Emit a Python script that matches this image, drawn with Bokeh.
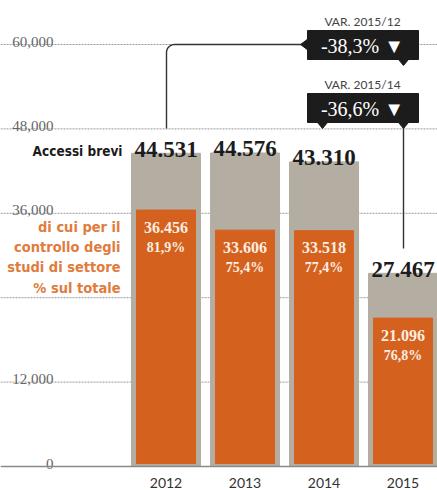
import numpy as np
from bokeh.plotting import figure
from bokeh.models import Range1d, Span, ColumnDataSource
from bokeh.core.properties import value
from bokeh.embed import file_html
from bokeh.resources import INLINE

# ---- data ----
years = ["2012", "2013", "2014", "2015"]
totals = [44531, 44576, 43310, 27467]
studi = [36456, 33606, 33518, 21096]
pct_labels = ["81,9%", "75,4%", "77,4%", "76,8%"]
tick_vals = [0, 12000, 24000, 36000, 48000, 60000]
tick_labels = ["0", "12,000", "", "36,000", "48,000", "60,000"]
var_titles = ["VAR. 2015/12", "VAR. 2015/14"]
var_values = ["-38,3% \u25BC", "-36,6% \u25BC"]
total_title = "Accessi brevi"
studi_title = ["di cui per il", "controllo degli", "studi di settore", "% sul totale"]

W, H = 437, 490
ZERO_PX = 466.0
PX_PER_UNIT_Y = 84.4 / 12000.0
X0_PX, STEP_PX = 165.5, 79.0

def X(px):
    return (px - X0_PX) / STEP_PX

def Y(py):
    return (ZERO_PX - py) / PX_PER_UNIT_Y

GRAY = "#b4ada2"
ORANGE = "#d5611f"
ORANGE_TXT = "#e07c3c"
DARK = "#1c1c1c"
COND = value("'DejaVu Sans Condensed', 'Liberation Sans Narrow', 'Roboto', sans-serif")

p = figure(width=W, height=H, x_range=Range1d(X(0), X(W)), y_range=Range1d(Y(H), Y(0)),
           min_border=0, toolbar_location=None, output_backend="svg",
           x_axis_location=None, y_axis_location=None)
p.outline_line_color = None
p.grid.visible = False
p.background_fill_color = "white"

# gridlines
for t in tick_vals[1:]:
    p.add_layout(Span(location=t, dimension="width", line_color="#9a9a9a",
                      line_dash="2 1", line_width=1, level="underlay"))
p.add_layout(Span(location=0, dimension="width", line_color="#8a8a8a", line_width=1.6))

xs = list(range(len(years)))
src = ColumnDataSource(dict(
    x=xs, total=totals, studi=studi, pct=pct_labels, year=years,
    tlabel=[f"{v:,}".replace(",", ".") for v in totals],
    slabel=[f"{v:,}".replace(",", ".") for v in studi],
))

bw = 69 / STEP_PX
ow = 59 / STEP_PX
p.vbar(x="x", top="total", bottom=0, width=bw, color=GRAY, source=src)
p.vbar(x="x", top="studi", bottom=3 * (1 / PX_PER_UNIT_Y), width=ow, color=ORANGE, source=src)

# tick labels
p.text(x=[X(53)] * len(tick_vals), y=tick_vals, text=tick_labels, text_align="right",
       text_baseline="alphabetic", y_offset=-3, text_font=value("Liberation Serif"),
       text_font_size="15px", text_color="#666666")

# total labels
p.text(x="x", y="total", text="tlabel", source=src, text_align="center",
       text_baseline="alphabetic", y_offset=-4, text_font=value("Liberation Serif"),
       text_font_style="bold", text_font_size="23px", text_color=DARK)
# inside labels
p.text(x="x", y="studi", text="slabel", source=src, text_align="center",
       text_baseline="middle", y_offset=17, text_font=value("Liberation Serif"),
       text_font_style="bold", text_font_size="16px", text_color="#fbeee0")
p.text(x="x", y="studi", text="pct", source=src, text_align="center",
       text_baseline="middle", y_offset=37, text_font=value("Liberation Serif"),
       text_font_style="bold", text_font_size="14px", text_color="#fbeee0")
# year labels
p.text(x="x", y=0, text="year", source=src, text_align="center", text_baseline="middle",
       y_offset=16, text_font=value("Lato"), text_font_size="14px", text_color="#333333")

# side titles
p.text(x=[X(122)], y=[Y(150)], text=[total_title], text_align="right", text_baseline="alphabetic",
       text_font=COND, text_font_style="bold", text_font_size="13.5px", text_color=DARK)
p.text(x=[X(120)] * 4, y=[Y(226 + 20.4 * i) for i in range(4)], text=studi_title,
       text_align="right", text_baseline="middle", text_font=COND,
       text_font_style="bold", text_font_size="14.5px", text_color=ORANGE_TXT)

# connector 1 with rounded corner
r = 8
ang = np.linspace(np.pi, np.pi / 2, 12)
cx, cy = 166 + r, 44 + r
arc_x = cx + r * np.cos(ang)
arc_y = cy - r * np.sin(ang)
lx = [166, 166] + list(arc_x) + [305]
ly = [128, cy] + list(arc_y) + [44]
p.line([X(v) for v in lx], [Y(v) for v in ly], line_color="#333333", line_width=1.4)
# connector 2
p.line([X(403), X(403)], [Y(124), Y(248)], line_color="#333333", line_width=1.4)

# boxes
box_tops = [30, 93]
for i, bt in enumerate(box_tops):
    bb = bt + 29
    p.quad(left=X(307), right=X(418), top=Y(bt), bottom=Y(bb), color=DARK)
    p.text(x=[X(362)], y=[Y(bt - 9)], text=[var_titles[i]], text_align="center",
           text_baseline="middle", text_font=value("Lato"), text_font_size="12px",
           text_color="#444444")
    p.text(x=[X(362)], y=[Y(bt + 15)], text=[var_values[i]], text_align="center",
           text_baseline="middle", text_font=value("Liberation Serif"), text_font_size="20px",
           text_color="white")
    # bottom-right pointer
    p.patch([X(398), X(408), X(403)], [Y(bb), Y(bb), Y(bb + 6)], color=DARK)
# left pointer box 1
p.patch([X(308), X(300), X(308)], [Y(38), Y(44), Y(50)], color=DARK)
# bottom-left pointer box 2
p.patch([X(317), X(327), X(322)], [Y(122), Y(122), Y(128)], color=DARK)

open("out.html", "w").write(file_html(p, INLINE))
